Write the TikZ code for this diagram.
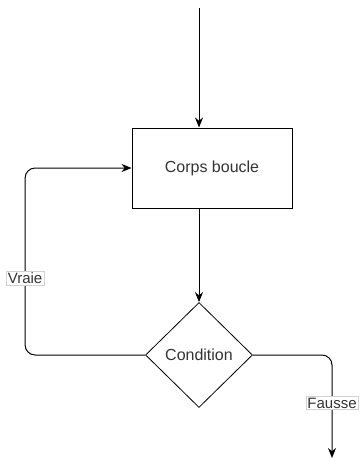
\documentclass[tikz,border=0pt]{standalone}
\usepackage{fontspec}
\setmainfont{Liberation Sans}
\usetikzlibrary{shapes.geometric,arrows.meta}

\begin{document}
\begin{tikzpicture}[x=1pt, y=-1pt,
    bloc/.style={draw, line width=1pt, minimum width=160pt, minimum height=80pt, inner sep=0pt, font=\fontsize{16}{19}\selectfont, text=black!80},
    choix/.style={diamond, draw, line width=0.8pt, minimum width=107pt, minimum height=105pt, inner sep=0pt, font=\fontsize{16}{19}\selectfont, text=black!80},
    fleche/.style={-{Stealth[length=10pt,width=8pt]}, line width=1pt},
    etiq/.style={fill=white, draw=gray!35, line width=0.5pt, inner sep=1.5pt, font=\fontsize{15}{18}\selectfont, text=black!80}]

  \useasboundingbox (0,0) rectangle (361,460);

  %blocs
  \node[bloc] (corps) at (212,168) {Corps boucle};
  \node[choix] (cond) at (199,355) {Condition};

  \coordinate (haut) at (199,8);
  \coordinate (bas) at (332,458);

  %fleches
  \draw[fleche] (haut) -- (haut |- corps.north);
  \draw[fleche] (cond |- corps.south) -- (cond.north);
  \draw[fleche, rounded corners=10pt] (cond.west) -- ++(-120,0) coordinate (gauche) |- (corps.west);
  \draw[fleche, rounded corners=10pt] (cond.east) -| (bas);

  %etiquettes
  \node[etiq] (vraie) at (gauche |- 0,278) {Vraie};
  \node[etiq] (fausse) at (bas |- 0,403) {Fausse};

\end{tikzpicture}
\end{document}
